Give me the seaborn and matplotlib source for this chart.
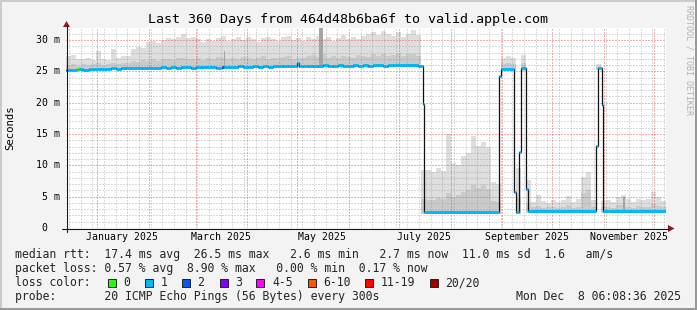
import numpy as np
import pandas as pd
import matplotlib
matplotlib.use("Agg")
import matplotlib.pyplot as plt
import matplotlib.transforms as mtransforms
from matplotlib.patches import Rectangle, Polygon
from matplotlib.lines import Line2D
import seaborn as sns

# ---------------- data ----------------
title = "Last 360 Days from 464d48b6ba6f to valid.apple.com"
start_time = "2024-12-13 06:08:36"
span_days = 360
smoke_bin_days = 3

# smoke envelope per 3-day bin (ms)
smoke_hi = [27.5, 27.6, 27.0, 26.9, 27.1, 26.8, 28.3, 26.9, 26.8, 28.6,
            27.1, 27.4, 27.5, 28.6, 28.8, 28.7, 29.7, 29.8, 29.5, 30.0,
            30.3, 30.2, 30.4, 31.0, 30.3, 30.4, 30.1, 29.6, 30.2, 29.9,
            30.3, 30.6, 29.8, 30.2, 30.5, 30.0, 30.4, 30.1, 29.7, 30.3,
            30.5, 30.2, 29.9, 30.4, 30.6, 30.0, 30.3, 29.8, 30.4, 30.2,
            30.7, 30.2, 30.4, 29.9, 30.3, 30.8, 30.2, 30.5, 30.1, 30.6,
            30.9, 31.2, 30.8, 31.5, 31.0, 30.6, 31.3, 30.4, 30.9, 31.6,
            30.8,
            9.2, 9.3, 8.9, 9.6, 9.1, 15.0, 10.3, 10.1, 11.5, 12.0, 14.6, 13.1, 13.8, 12.9, 7.3, 7.0,
            27.2, 27.4, 27.1, 9.6, 27.6, 7.6,
            4.2, 5.3, 4.3, 4.0, 4.5, 4.1, 4.4, 5.1, 4.2, 4.6, 8.2, 9.0, 4.5, 26.2,
            4.3, 4.5, 4.1, 5.0, 5.2, 4.6, 4.2, 4.7, 4.4, 4.6, 5.7, 4.9, 4.3]
smoke_mid = [26.0, 26.1, 25.9, 26.2, 26.0, 26.1, 26.3, 26.0, 26.2, 26.4,
             26.1, 26.3, 26.4, 26.6, 26.5, 26.8, 26.7, 26.9, 26.6, 26.9,
             27.0, 26.8, 27.1, 27.2, 26.9, 27.0, 27.2, 26.8, 27.1, 27.0,
             27.3, 27.1, 26.9, 27.2, 27.0, 27.3, 27.1, 26.9, 27.2, 27.4,
             27.0, 27.2, 27.1, 27.3, 27.5, 27.0, 27.2, 27.1, 27.4, 27.6,
             27.3, 27.8, 27.2, 27.4, 27.1, 27.5, 27.3, 27.2, 27.6, 27.4,
             27.3, 27.7, 27.5, 27.8, 27.4, 27.6, 27.9, 27.5, 27.7, 27.8,
             27.4,
             4.6, 4.4, 4.5, 4.8, 4.6, 5.6, 5.0, 5.2, 5.8, 6.1, 6.8, 6.4, 6.9, 6.2, 4.3, 4.1,
             26.2, 26.3, 26.2, 4.8, 26.3, 4.0,
             3.3, 3.5, 3.2, 3.3, 3.4, 3.2, 3.3, 3.6, 3.2, 3.4, 5.6, 6.0, 3.4, 25.9,
             3.3, 3.4, 3.2, 3.6, 3.7, 3.4, 3.2, 3.5, 3.3, 3.4, 3.8, 3.5, 3.3]
smoke_lo = [24.9, 25.0, 25.0, 25.1, 25.1, 25.1, 25.2, 25.2, 25.2, 25.2,
            25.3, 25.3, 25.3, 25.3, 25.3, 25.4, 25.4, 25.4, 25.4, 25.4,
            25.4, 25.5, 25.4, 25.5, 25.5, 25.5, 25.5, 25.4, 25.5, 25.5,
            25.5, 25.5, 25.4, 25.5, 25.6, 25.5, 25.5, 25.6, 25.5, 25.6,
            25.6, 25.5, 25.6, 25.6, 25.6, 25.5, 25.6, 25.6, 25.6, 25.6,
            25.6, 25.7, 25.6, 25.6, 25.7, 25.6, 25.7, 25.6, 25.7, 25.7,
            25.6, 25.7, 25.7, 25.7, 25.7, 25.8, 25.7, 25.7, 25.8, 25.7,
            25.7,
            2.3, 2.3, 2.3, 2.3, 2.3, 2.3, 2.3, 2.3, 2.3, 2.3, 2.3, 2.3, 2.3, 2.3, 2.3, 2.3,
            25.0, 25.0, 25.0, 2.3, 25.1, 2.4,
            2.4, 2.4, 2.4, 2.4, 2.4, 2.4, 2.4, 2.4, 2.4, 2.4, 2.4, 2.4, 2.4, 25.2,
            2.4, 2.4, 2.4, 2.4, 2.4, 2.4, 2.4, 2.4, 2.4, 2.4, 2.4, 2.4, 2.4]

# darker smoke streaks
dark_day = [94.8, 153.0, 334.8]
dark_base = [25.8, 26.0, 2.8]
dark_top = [28.2, 31.9, 5.0]

# median rtt (ms), step series, with loss class index
med_day = [0, 3, 6.4, 7.6, 10, 14, 17, 20, 24, 27,
           30, 33, 36, 39, 42, 45, 48, 51, 54, 57,
           60, 63, 66, 69, 72, 75, 78, 81, 84, 87,
           90, 93.4, 94.6, 97, 100, 103, 106, 109, 112, 115,
           118, 121, 124, 127, 130, 133, 136, 138.3, 139.5, 142,
           145, 148, 151, 154, 157, 160, 163, 166, 169, 172,
           175, 178, 181, 184, 187, 190, 193, 196, 199, 202,
           205, 208, 211, 214.2, 214.8, 260.0, 260.8, 269.0, 270.0, 272.0,
           272.8, 276.0, 277.4, 318.0, 319.0, 321.4, 322.4, 325.5, 326.3, 360]
med_val = [25.15, 25.2, 25.3, 25.3, 25.25, 25.35, 25.3, 25.4, 25.35, 25.45,
           25.4, 25.5, 25.45, 25.55, 25.5, 25.6, 25.55, 25.5, 25.6, 25.65,
           25.55, 25.65, 25.6, 25.7, 25.65, 25.6, 25.7, 25.65, 25.75, 25.7,
           25.6, 25.75, 25.7, 25.75, 25.7, 25.8, 25.7, 25.75, 25.8, 25.7,
           25.8, 25.75, 25.85, 25.8, 25.85, 25.8, 25.9, 26.4, 25.85, 25.8,
           25.9, 25.85, 25.9, 25.95, 25.85, 25.9, 25.95, 25.9, 25.85, 25.95,
           25.9, 26.0, 25.9, 25.95, 26.0, 25.9, 26.0, 25.95, 26.05, 26.0,
           26.05, 25.95, 25.9, 19.8, 2.6, 24.3, 25.35, 5.8, 2.6, 12.2,
           25.5, 6.2, 2.7, 13.1, 25.5, 19.6, 2.65, 2.65, 2.65, 2.65]
med_loss = [1, 1, 0, 1, 1, 1, 1, 1, 1, 1,
            1, 1, 1, 1, 1, 1, 1, 1, 1, 1,
            1, 1, 1, 1, 1, 1, 1, 1, 1, 1,
            1, 2, 1, 1, 1, 1, 1, 1, 1, 1,
            1, 1, 1, 1, 1, 1, 1, 1, 1, 1,
            1, 1, 1, 1, 1, 1, 1, 1, 1, 1,
            1, 1, 1, 1, 1, 1, 1, 1, 1, 1,
            1, 1, 1, 1, 1, 1, 1, 1, 1, 1,
            1, 1, 1, 1, 1, 1, 1, 0, 1, 1]

y_ticks = [0, 5, 10, 15, 20, 25, 30]
y_labels = ["0", "5 m", "10 m", "15 m", "20 m", "25 m", "30 m"]
label_months = ["2025-01-01", "2025-03-01", "2025-05-01", "2025-07-01", "2025-09-01", "2025-11-01"]
month_labels = ["January 2025", "March 2025", "May 2025", "July 2025", "September 2025", "November 2025"]

loss_labels = ["0", "1", "2", "3", "4-5", "6-10", "11-19", "20/20"]
loss_colors = ["#26FF00", "#00B8FF", "#0059FF", "#7E00FF", "#FF00FF", "#FF5500", "#FF0000", "#A10000"]

row_median = "median rtt:  17.4 ms avg  26.5 ms max   2.6 ms min   2.7 ms now  11.0 ms sd  1.6   am/s"
row_loss = "packet loss: 0.57 % avg  8.90 % max   0.00 % min  0.17 % now"
row_probe = "probe:       20 ICMP Echo Pings (56 Bytes) every 300s"
stamp = "Mon Dec  8 06:08:36 2025"

# ---------------- drawing ----------------
W, H = 697, 310
BACK = "#F3F3F3"
sns.set_theme(style="white")
plt.rcParams["font.family"] = ["DejaVu Sans Mono", "DejaVu Sans"]

fig = plt.figure(figsize=(W / 100, H / 100), dpi=100, facecolor=BACK)


def P(x, y):
    return (x / W, 1 - y / H)


ax = fig.add_axes([66 / W, 1 - 228 / H, 600 / W, 200 / H])
ax.set_facecolor("white")
ax.set_xlim(0, span_days)
ax.set_ylim(0, 31.91)
for s in ax.spines.values():
    s.set_visible(False)

start = pd.Timestamp(start_time)


def to_day(ts):
    return (pd.Timestamp(ts) - start).total_seconds() / 86400.0


month_days = [to_day(t) for t in pd.date_range("2025-01-01", "2025-12-01", freq="MS")]
week_days = [to_day(t) for t in pd.date_range("2024-12-15", "2025-12-07", freq="7D")]

ax.set_xticks(month_days)
ax.set_xticks(week_days, minor=True)
ax.set_yticks(y_ticks)
ax.set_yticks(np.arange(0, 32, 1), minor=True)
ax.set_axisbelow(False)
ax.grid(which="minor", color="#8A8A8A", alpha=0.30, lw=0.75, ls=(0, (1.33, 1.33)),
        antialiased=False)
ax.grid(which="major", color="#E03030", alpha=0.38, lw=0.75, ls=(0, (1.33, 1.33)),
        antialiased=False)
ax.tick_params(labelbottom=False, labelleft=False)
ax.tick_params(axis="x", which="major", length=3, width=0.72, color="#D05050", direction="out")
ax.tick_params(axis="y", which="major", length=3, width=0.72, color="#202020", direction="out")
ax.tick_params(which="minor", length=0)
ax.set_xlabel("")
ax.set_ylabel("")

# smoke
edges = np.append(np.arange(len(smoke_hi)) * smoke_bin_days, span_days)
hi = np.append(smoke_hi, smoke_hi[-1])
mid = np.append(smoke_mid, smoke_mid[-1])
lo = np.append(smoke_lo, smoke_lo[-1])
ax.fill_between(edges, lo, hi, step="post", color="#DEDEDE", lw=0, zorder=1)
ax.fill_between(edges, lo, mid, step="post", color="#CACACA", lw=0, zorder=1.1)
ax.bar(dark_day, np.array(dark_top) - np.array(dark_base), bottom=dark_base,
       width=[0.6, 2.4, 1.2], color="#A5A5A5", lw=0, zorder=1.2)

# median: black step line + loss-coloured segments
sns.lineplot(x=med_day, y=med_val, drawstyle="steps-post", color="#101010", lw=0.9,
             ax=ax, estimator=None, sort=False, zorder=3, legend=False)
seg_colors = [loss_colors[i] for i in med_loss[:-1]]
ax.hlines(med_val[:-1], med_day[:-1], med_day[1:], colors=seg_colors, lw=2.1,
          zorder=4, capstyle="butt")

# axes lines + arrows
AX = "#1A1A1A"
ARROW = "#8E1A1A"
fig.add_artist(Line2D(*zip(P(62, 228.5), P(669, 228.5)), color=AX, lw=0.8))
fig.add_artist(Line2D(*zip(P(66.5, 232), P(66.5, 26)), color=AX, lw=0.8))
fig.add_artist(Polygon([P(668, 225), P(674.5, 228.5), P(668, 232)], closed=True,
                       transform=fig.transFigure, color=ARROW, lw=0))
fig.add_artist(Polygon([P(63, 27), P(66.5, 21), P(70, 27)], closed=True,
                       transform=fig.transFigure, color=ARROW, lw=0))

# y tick labels
ytr = mtransforms.blended_transform_factory(fig.transFigure, ax.transData)
for v, lab in zip(y_ticks, y_labels):
    xr = 59.8 if v else 47.6
    ax.text(xr / W, v, lab, transform=ytr, ha="right", va="center", fontsize=7.1, color="black")

# x labels (centered mid-month)
xtr = mtransforms.blended_transform_factory(ax.transData, fig.transFigure)
for m, lab in zip(label_months, month_labels):
    ax.text(to_day(m) + 15, 1 - 240 / H, lab, transform=xtr, ha="center", va="baseline",
            fontsize=7.1, color="black")

# titles
fig.text(*P(347.5, 22.5), title, ha="center", va="baseline", fontsize=9.6, color="black")
fig.text(*P(10, 128), "Seconds", rotation=90, ha="center", va="center", fontsize=7.7, color="black")
fig.text(*P(688.5, 5), "RRDTOOL / TOBI OETIKER", rotation=-90, ha="center", va="top",
         fontsize=6.0, color="#B0B0B0")

# legend rows
LFS = 8.3
fig.text(*P(15.2, 258), row_median, ha="left", va="baseline", fontsize=LFS)
fig.text(*P(15.2, 272), row_loss, ha="left", va="baseline", fontsize=LFS)
fig.text(*P(15.2, 286), "loss color:", ha="left", va="baseline", fontsize=LFS)
fig.text(*P(15.2, 300), row_probe, ha="left", va="baseline", fontsize=LFS)
fig.text(*P(680.5, 300), stamp, ha="right", va="baseline", fontsize=LFS)

sq_x = [108, 145.3, 182, 219.6, 256.4, 307.6, 365.3, 430]
for xs, lab, col in zip(sq_x, loss_labels, loss_colors):
    x0, y0 = P(xs, 287)
    fig.add_artist(Rectangle((x0, y0), 8 / W, 8 / H, transform=fig.transFigure,
                             facecolor=col, edgecolor="#202020", lw=0.7))
    fig.text(*P(xs + 15.6, 286), lab, ha="left", va="baseline", fontsize=LFS)

# frame shading
fig.add_artist(Line2D([0, 1], [1 - 0.5 / H, 1 - 0.5 / H], color="#CBCBCB", lw=1.44))
fig.add_artist(Line2D([0.5 / W, 0.5 / W], [0, 1], color="#CBCBCB", lw=1.44))
fig.add_artist(Line2D([0, 1], [1 / H, 1 / H], color="#999999", lw=1.44))
fig.add_artist(Line2D([1 - 1 / W, 1 - 1 / W], [0, 1], color="#999999", lw=1.44))

fig.savefig("out.png", dpi=100, facecolor=BACK)
